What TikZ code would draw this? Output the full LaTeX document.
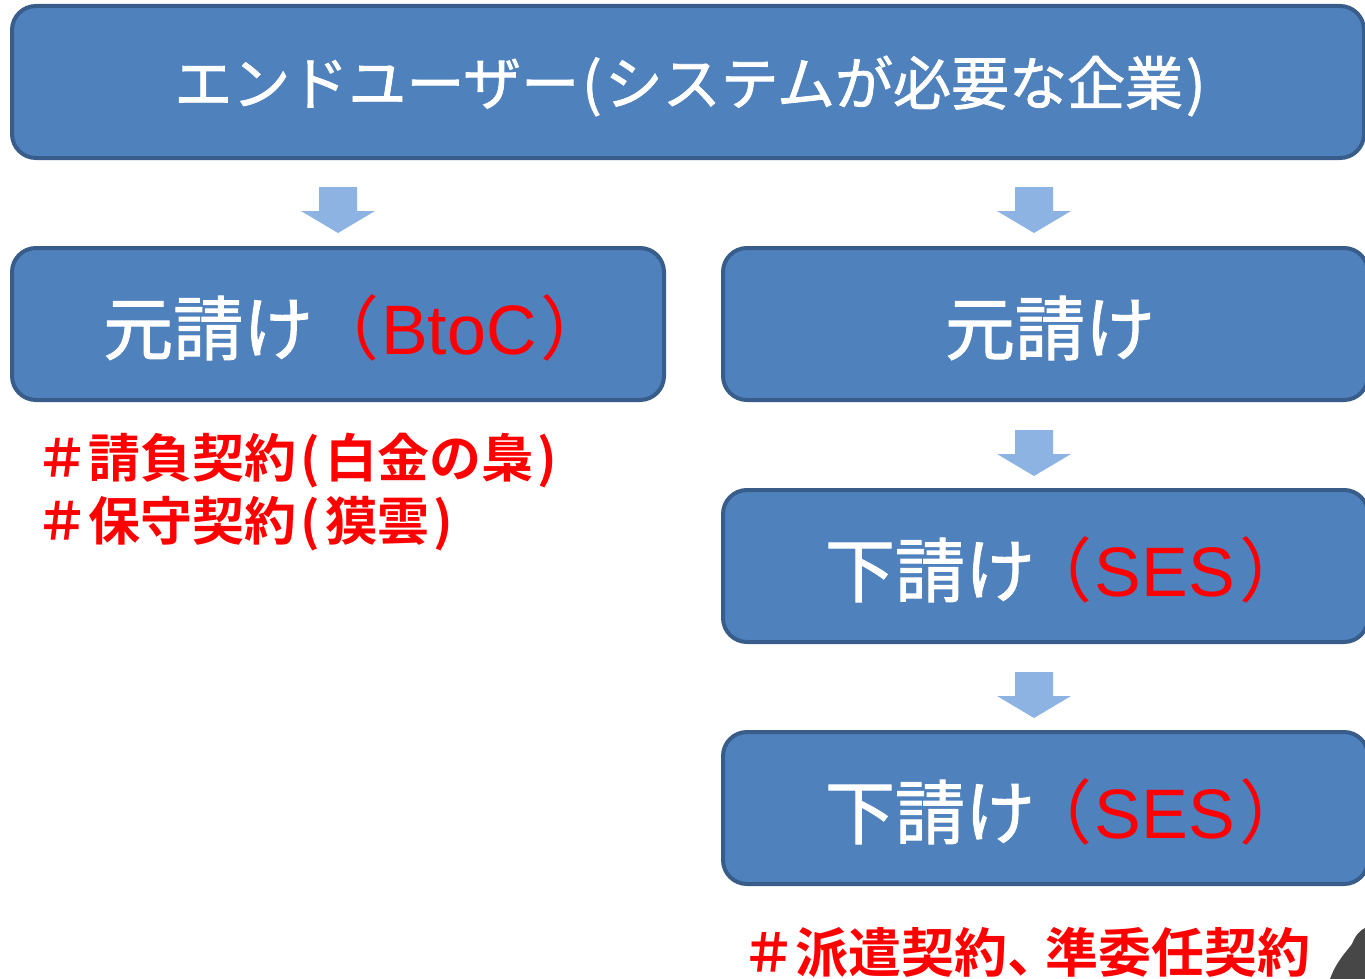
\documentclass[tikz,border=0pt]{standalone}
\usepackage{fontspec}
\newfontfamily\jp{Noto Sans CJK JP}[BoldFont={Noto Sans CJK JP Bold}]
\newfontfamily\jpm{Noto Sans CJK JP}[FakeBold=1.4]
\newfontfamily\lat{Liberation Sans}
\definecolor{boxfill}{HTML}{4F81BD}
\definecolor{boxline}{HTML}{385D8A}
\definecolor{arrowfill}{HTML}{8DB3E2}
\definecolor{redtxt}{HTML}{FF0000}
\definecolor{blob}{HTML}{474747}
\tikzset{
  flowbox/.style={draw=boxline, line width=4pt, fill=boxfill, rounded corners=24pt},
  boxtext/.style={text=white, font=\jpm, inner sep=0pt},
  blockarrow/.style={fill=arrowfill, draw=none},
  note/.style={text=redtxt, font=\jp\bfseries\fontsize{52}{64}\selectfont, anchor=west, inner sep=0pt, align=left}
}
\newcommand{\downarrowat}[2]{% x center, top y
  \fill[blockarrow] (#1-19,#2) -- (#1+19,#2) -- (#1+19,#2+24) -- (#1+37,#2+24) -- (#1,#2+46) -- (#1-37,#2+24) -- (#1-19,#2+24) -- cycle;}
\newcommand{\lp}{\kern4pt(\kern6pt}
\newcommand{\rp}{\kern4pt)}
\newcommand{\redpar}[2]{\textcolor{redtxt}{\kern#1{\jp（}\kern2pt{\lat #2}\kern4pt{\jp）}}}
\begin{document}
\begin{tikzpicture}[x=1pt,y=-1pt]
\useasboundingbox (0,0) rectangle (1365,979);
\clip (0,0) rectangle (1365,979);
% boxes
\draw[flowbox] (12,6) rectangle (1364,158);
\node[boxtext, font=\jpm\fontsize{58}{70}\selectfont] (top) at (690,86) {エンドユーザー\kern3pt(\kern3pt システムが必要な企業\kern3pt)};
\draw[flowbox] (12,248) rectangle (664,400);
\node[boxtext, font=\jpm\fontsize{70}{84}\selectfont] (bc) at (357,328) {元請け\redpar{-4pt}{BtoC}};
\draw[flowbox] (723,248) rectangle (1368,400);
\node[boxtext, font=\jpm\fontsize{70}{84}\selectfont] (moto) at (1050,328) {元請け};
\draw[flowbox] (723,490) rectangle (1368,642);
\node[boxtext, font=\jpm\fontsize{70}{84}\selectfont] (sub1) at (1067,570) {下請け\redpar{-12pt}{SES}};
\draw[flowbox] (723,732) rectangle (1368,884);
\node[boxtext, font=\jpm\fontsize{70}{84}\selectfont] (sub2) at (1067,812) {下請け\redpar{-12pt}{SES}};
% arrows
\downarrowat{338}{187}
\downarrowat{1034}{187}
\downarrowat{1034}{430}
\downarrowat{1034}{672}
% notes
\node[note] (n1) at (36,461) {＃請負契約\lp 白金の梟\rp};
\node[note] (n2) at (36,524) {＃保守契約\lp 獏雲\rp};
\node[note, font=\jp\bfseries\fontsize{53}{64}\selectfont] (n3) at (742,952) {＃派遣契約、\kern-15pt 準委任契約};
% partial dark shape bottom right
\fill[blob] (1330,979) .. controls (1336,962) and (1346,952) .. (1352,944) .. controls (1355,936) and (1360,930) .. (1365,928) -- (1365,979) -- cycle;
\end{tikzpicture}
\end{document}
